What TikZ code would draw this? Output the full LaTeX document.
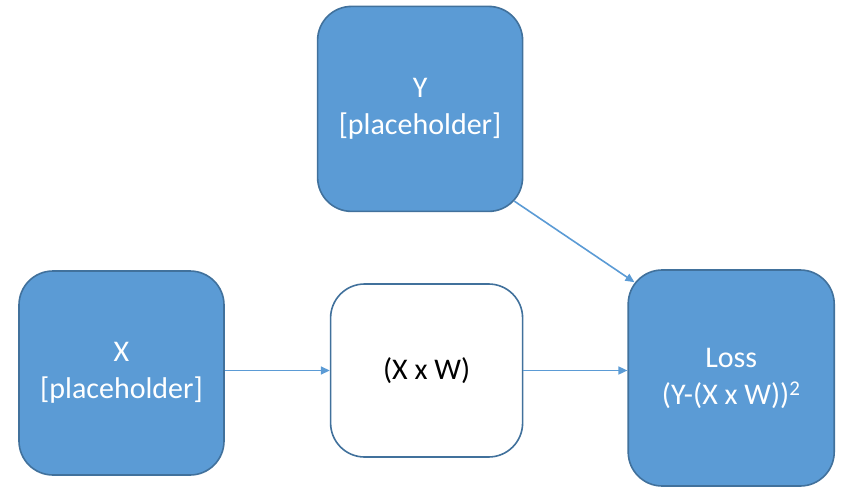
\documentclass[tikz,border=0pt]{standalone}
\usepackage{fontspec}
\setmainfont{Carlito}
\usetikzlibrary{positioning,arrows.meta}
\definecolor{boxblue}{HTML}{5B9BD5}
\definecolor{edgeblue}{HTML}{41719C}
\tikzset{
    blk/.style={draw=edgeblue, line width=1.6pt, rounded corners=34pt,
                align=center, inner sep=0pt, font=\fontsize{30}{37}\selectfont},
    full/.style={blk, fill=boxblue, text=white},
    hollow/.style={blk, fill=white, text=black},
    link/.style={draw=boxblue, line width=1.6pt, -{Triangle[length=9pt,width=8pt]}}
}
\begin{document}
\begin{tikzpicture}
\useasboundingbox (0,0) rectangle (842pt,488pt);
\node(X)    [full, minimum width=205pt, minimum height=204pt] at (121.5pt,115pt) {X\\{[placeholder]}};
\node(M)    [hollow, minimum width=192pt, minimum height=173pt, right=105pt of X, yshift=2.5pt] {(X x W)};
\node(Loss) [full, minimum width=206pt, minimum height=216pt, right=104pt of M, yshift=-7.5pt] {Loss\\(Y-(X x W))\textsuperscript{2}};
\node(Y)    [full, minimum width=205pt, minimum height=205pt, above=71pt of M, xshift=-6.5pt] {Y\\{[placeholder]}};
\draw[link] (X.east |- M.west) -- (M.west);
\draw[link] (M.east) -- (M.east -| Loss.west);
\draw[link] ([shift={(-9pt,11pt)}]Y.south east) -- ([shift={(7pt,-13pt)}]Loss.north west);
\end{tikzpicture}
\end{document}
